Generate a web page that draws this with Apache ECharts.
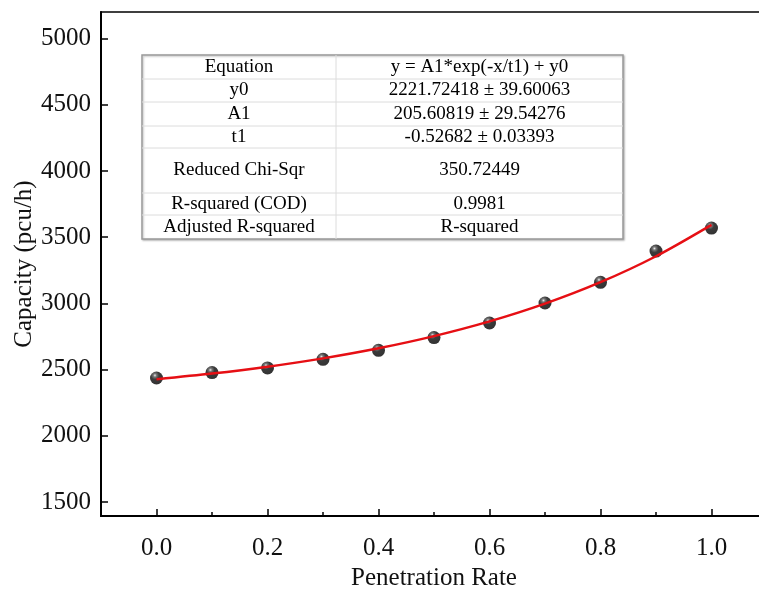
<!DOCTYPE html>
<html>
<head>
<meta charset="utf-8">
<script src="https://cdn.jsdelivr.net/npm/echarts@6/dist/echarts.min.js"></script>
<style>
html, body { margin: 0; padding: 0; background: #fff; }
#myChart { width: 759px; height: 590px; }
</style>
</head>
<body>
<div id="myChart"></div>
<script>
// data
const penetration = [0, 0.1, 0.2, 0.3, 0.4, 0.5, 0.6, 0.7, 0.8, 0.9, 1.0];
const capacity = [2437, 2478, 2513, 2578, 2646, 2742, 2852, 3003, 3159, 3395, 3569];
const fitted = [2427, 2470, 2522, 2585, 2661, 2753, 2864, 2998, 3160, 3356, 3593];

const xMajorTicks = [0, 0.2, 0.4, 0.6, 0.8, 1.0];
const xMinorTicks = [0.1, 0.3, 0.5, 0.7, 0.9];
const yTicks = [1500, 2000, 2500, 3000, 3500, 4000, 4500, 5000];

const tableNames = ['Equation', 'y0', 'A1', 't1', 'Reduced Chi-Sqr', 'R-squared (COD)', 'Adjusted R-squared'];
const tableValues = ['y = A1*exp(-x/t1) + y0', '2221.72418 \u00b1 39.60063', '205.60819 \u00b1 29.54276',
  '-0.52682 \u00b1 0.03393', '350.72449', '0.9981', 'R-squared'];

const FONT = '"Liberation Serif", "Times New Roman", serif';

// table layout
const tbl = { x0: 142, x1: 336, x2: 623, rows: [55, 79, 102, 126, 148, 193, 215, 239] };
const tableGraphics = [];
tableGraphics.push({
  type: 'rect', shape: { x: tbl.x0, y: tbl.rows[0], width: tbl.x2 - tbl.x0, height: tbl.rows[7] - tbl.rows[0] },
  style: { fill: '#fff', stroke: '#9a9a9a', lineWidth: 1.5, shadowBlur: 2, shadowColor: 'rgba(0,0,0,0.25)', shadowOffsetX: 1, shadowOffsetY: 1 }
});
for (let i = 1; i < tbl.rows.length - 1; i++) {
  tableGraphics.push({ type: 'line', shape: { x1: tbl.x0, y1: tbl.rows[i], x2: tbl.x2, y2: tbl.rows[i] }, style: { stroke: '#dcdcdc', lineWidth: 1 } });
}
tableGraphics.push({ type: 'line', shape: { x1: tbl.x1, y1: tbl.rows[0], x2: tbl.x1, y2: tbl.rows[7] }, style: { stroke: '#dcdcdc', lineWidth: 1 } });
tableNames.forEach((name, i) => {
  const cy = (tbl.rows[i] + tbl.rows[i + 1]) / 2;
  tableGraphics.push({ type: 'text', style: { text: name, x: (tbl.x0 + tbl.x1) / 2, y: cy, align: 'center', verticalAlign: 'middle', fontFamily: FONT, fontSize: 19, fill: '#000' } });
  tableGraphics.push({ type: 'text', style: { text: tableValues[i], x: (tbl.x1 + tbl.x2) / 2, y: cy, align: 'center', verticalAlign: 'middle', fontFamily: FONT, fontSize: 19, fill: '#000' } });
});

const ball = new echarts.graphic.RadialGradient(0.38, 0.3, 0.7, [
  { offset: 0, color: '#e8e8e8' },
  { offset: 0.18, color: '#555' },
  { offset: 0.45, color: '#0a0a0a' },
  { offset: 1, color: '#000' }
]);

const option = {
  backgroundColor: '#fff',
  animation: false,
  grid: { left: 101, right: -8, top: 12, bottom: 74, outerBoundsMode: 'none', containLabel: false, show: true, borderColor: '#000', borderWidth: 1.5 },
  xAxis: [{
    type: 'value', min: -0.1, max: 1.1,
    name: 'Penetration Rate', nameLocation: 'middle', nameGap: 50, nameMoveOverlap: false,
    nameTextStyle: { fontFamily: FONT, fontSize: 25, color: '#111' },
    axisLine: { onZero: false, lineStyle: { color: '#000', width: 2 } },
    axisTick: { inside: true, length: 7, customValues: xMajorTicks, lineStyle: { color: '#000', width: 1.5 } },
    axisLabel: { customValues: xMajorTicks, margin: 20, fontFamily: FONT, fontSize: 25, color: '#111', formatter: v => v.toFixed(1) },
    splitLine: { show: false }
  }, {
    type: 'value', min: -0.1, max: 1.1, position: 'bottom',
    axisLine: { show: false, onZero: false },
    axisTick: { inside: true, length: 4, customValues: xMinorTicks, lineStyle: { color: '#000', width: 1.5 } },
    axisLabel: { show: false },
    splitLine: { show: false }
  }],
  yAxis: {
    type: 'value', min: 1395, max: 5200,
    name: 'Capacity (pcu/h)', nameLocation: 'middle', nameGap: 64, nameMoveOverlap: false,
    nameTextStyle: { fontFamily: FONT, fontSize: 25, color: '#111' },
    axisLine: { onZero: false, lineStyle: { color: '#000', width: 2 } },
    axisTick: { inside: true, length: 7, customValues: yTicks, lineStyle: { color: '#000', width: 1.5 } },
    axisLabel: { customValues: yTicks, margin: 10, fontFamily: FONT, fontSize: 25, color: '#111', formatter: v => String(v) },
    splitLine: { show: false }
  },
  series: [{
    type: 'scatter',
    data: penetration.map((x, i) => [x, capacity[i]]),
    symbol: 'circle', symbolSize: 13,
    itemStyle: { color: ball },
    z: 2
  }, {
    type: 'line',
    data: penetration.map((x, i) => [x, fitted[i]]),
    smooth: 0.3, showSymbol: false,
    lineStyle: { color: '#e60f14', width: 2.5 },
    z: 3
  }],
  graphic: tableGraphics
};

let ECharts = echarts.init(document.getElementById('myChart'));
ECharts.setOption(option);
</script>
</body>
</html>
